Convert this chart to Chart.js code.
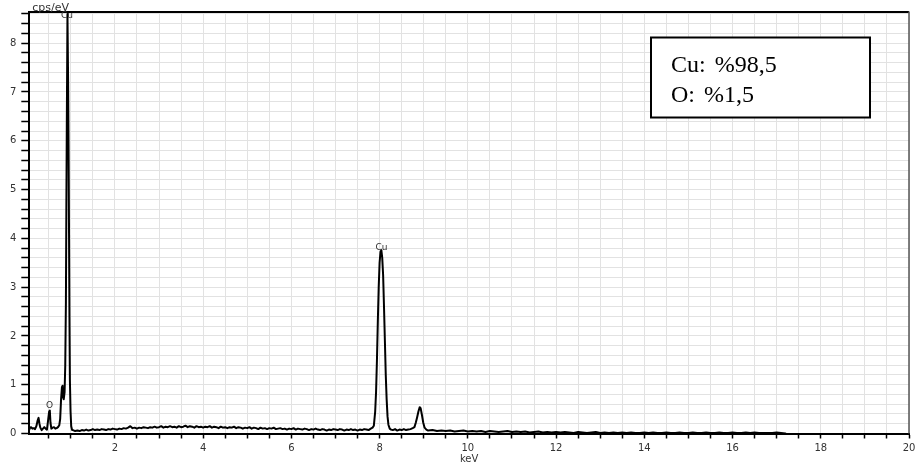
<!DOCTYPE html>
<html>
<head>
<meta charset="utf-8">
<script src="https://cdn.jsdelivr.net/npm/chart.js@4"></script>
<style>
html,body{margin:0;padding:0;background:#fff;}
canvas{display:block;}
</style>
</head>
<body>
<canvas id="c" width="920" height="470"></canvas>
<script>
// ---- data ----
const energyKeV = [
0.06,0.08,0.10,0.13,0.16,0.19,0.22,0.25,0.27,0.29,0.31,0.34,0.37,0.40,0.43,0.46,0.49,0.51,0.525,0.54,0.56,0.59,0.62,0.65,0.68,0.71,0.74,0.76,0.78,0.80,0.815,0.825,0.84,
0.86,0.875,0.89,0.90,0.91,0.925,0.94,0.95,0.96,0.97,0.98,0.995,1.01,1.03,
1.05,1.10,1.15,1.20,1.25,1.30,1.35,1.40,1.45,1.50,1.55,1.60,1.65,1.70,1.75,1.80,1.85,1.90,1.95,2.00,
2.05,2.10,2.15,2.20,2.25,2.30,2.35,2.40,2.45,2.50,2.55,2.60,2.65,2.70,2.75,2.80,2.85,2.90,2.95,3.00,
3.05,3.10,3.15,3.20,3.25,3.30,3.35,3.40,3.45,3.50,3.55,3.60,3.65,3.70,3.75,3.80,3.85,3.90,3.95,4.00,
4.05,4.10,4.15,4.20,4.25,4.30,4.35,4.40,4.45,4.50,4.55,4.60,4.65,4.70,4.75,4.80,4.85,4.90,4.95,5.00,
5.05,5.10,5.15,5.20,5.25,5.30,5.35,5.40,5.45,5.50,5.55,5.60,5.65,5.70,5.75,5.80,5.85,5.90,5.95,6.00,
6.05,6.10,6.15,6.20,6.25,6.30,6.35,6.40,6.45,6.50,6.55,6.60,6.65,6.70,6.75,6.80,6.85,6.90,6.95,7.00,
7.05,7.10,7.15,7.20,7.25,7.30,7.35,7.40,7.45,7.50,7.55,7.60,7.65,7.70,7.75,7.80,
7.84,7.87,7.90,7.92,7.94,7.96,7.98,8.00,8.02,8.04,8.06,8.08,8.10,8.12,8.14,8.16,8.18,8.20,8.23,8.26,
8.30,8.35,8.40,8.45,8.50,8.55,8.60,8.65,8.70,8.75,
8.79,8.82,8.85,8.88,8.91,8.93,8.96,8.99,9.02,9.06,9.10,
9.2,9.3,9.4,9.5,9.6,9.7,9.8,9.9,10.0,10.1,10.2,10.3,10.4,10.5,10.6,10.7,10.8,10.9,11.0,
11.1,11.2,11.3,11.4,11.5,11.6,11.7,11.8,11.9,12.0,12.1,12.2,12.3,12.4,12.5,12.6,12.7,12.8,12.9,13.0,
13.1,13.2,13.3,13.4,13.5,13.6,13.7,13.8,13.9,14.0,14.1,14.2,14.3,14.4,14.5,14.6,14.7,14.8,14.9,15.0,
15.1,15.2,15.3,15.4,15.5,15.6,15.7,15.8,15.9,16.0,16.1,16.2,16.3,16.4,16.5,16.6,16.7,16.8,16.9,17.0,
17.1,17.2
];
const countsPerEV = [
0.08,0.12,0.13,0.10,0.11,0.09,0.15,0.27,0.32,0.20,0.12,0.07,0.10,0.13,0.10,0.08,0.30,0.45,0.47,0.22,0.10,0.12,0.13,0.10,0.11,0.13,0.17,0.30,0.70,0.95,0.98,0.75,0.70,
0.85,1.40,2.70,4.60,6.30,8.60,7.20,5.90,4.20,2.40,1.10,0.45,0.15,0.07,
0.07,0.05,0.06,0.05,0.07,0.06,0.08,0.06,0.07,0.09,0.07,0.08,0.07,0.09,0.08,0.07,0.09,0.08,0.10,0.09,
0.08,0.10,0.09,0.11,0.10,0.12,0.15,0.11,0.12,0.10,0.12,0.11,0.13,0.12,0.11,0.13,0.12,0.14,0.12,0.13,
0.15,0.12,0.14,0.13,0.15,0.13,0.14,0.12,0.15,0.13,0.14,0.16,0.13,0.15,0.14,0.12,0.15,0.13,0.14,0.12,
0.14,0.13,0.15,0.12,0.14,0.13,0.11,0.14,0.12,0.13,0.11,0.13,0.12,0.14,0.11,0.13,0.12,0.10,0.12,0.11,
0.13,0.10,0.12,0.11,0.09,0.12,0.10,0.11,0.09,0.11,0.10,0.12,0.09,0.10,0.11,0.09,0.10,0.08,0.10,0.09,
0.11,0.08,0.10,0.09,0.08,0.10,0.09,0.07,0.09,0.08,0.10,0.08,0.07,0.09,0.08,0.06,0.08,0.07,0.09,0.08,
0.07,0.09,0.08,0.06,0.08,0.07,0.09,0.07,0.08,0.06,0.08,0.07,0.09,0.08,0.07,0.10,
0.12,0.16,0.45,0.85,1.50,2.30,3.00,3.50,3.72,3.76,3.60,3.25,2.60,1.90,1.20,0.70,0.35,0.18,0.10,0.08,
0.07,0.09,0.06,0.08,0.07,0.09,0.07,0.08,0.09,0.11,
0.13,0.22,0.33,0.45,0.54,0.52,0.38,0.22,0.12,0.08,0.06,
0.07,0.05,0.06,0.05,0.06,0.04,0.05,0.06,0.04,0.05,0.04,0.05,0.03,0.05,0.04,0.03,0.04,0.05,0.03,
0.04,0.03,0.04,0.02,0.03,0.04,0.02,0.03,0.02,0.03,0.02,0.03,0.02,0.01,0.03,0.02,0.01,0.02,0.03,0.01,
0.02,0.01,0.02,0.01,0.02,0.01,0.02,0.01,0.01,0.02,0.01,0.02,0.01,0.01,0.02,0.01,0.01,0.02,0.01,0.01,
0.02,0.01,0.01,0.02,0.01,0.01,0.02,0.01,0.01,0.02,0.01,0.01,0.02,0.01,0.02,0.01,0.01,0.01,0.01,0.02,
0.01,0.00
];
const xLabelValues = [2,4,6,8,10,12,14,16,18,20];
const xTickLabels  = ['2','4','6','8','10','12','14','16','18','20'];
const yLabelValues = [0,1,2,3,4,5,6,7,8];
const yTickLabels  = ['0','1','2','3','4','5','6','7','8'];
const peakLabels = [
  {text:'Cu', x:0.915, y:8.56},
  {text:'Cu', x:8.045, y:3.80},
  {text:'O',  x:0.52,  y:0.58}
];
const compositionLines = ['Cu: %98,5', 'O: %1,5'];
const yUnitLabel = 'cps/eV';
const xUnitLabel = 'keV';

// ---- chart ----
const X_MIN = 0.06, X_MAX = 20, Y_MIN = 0, Y_MAX = 8.65;
const xMinor = []; for (let i = 1; i <= 40; i++) xMinor.push(i * 0.5);
const yMinor = []; for (let i = 0; i <= 43; i++) yMinor.push(Math.round(i * 2) / 10);

const tickFont = {family:'DejaVu Sans', size:10};

const overlay = {
  id:'overlay',
  afterDraw(chart){
    const ctx = chart.ctx, a = chart.chartArea;
    const xs = chart.scales.x, ys = chart.scales.y;
    ctx.save();
    // frame top + right
    ctx.strokeStyle = '#000'; ctx.lineWidth = 2;
    ctx.beginPath(); ctx.moveTo(a.left, a.top + 0.5); ctx.lineTo(a.right, a.top + 0.5); ctx.stroke();
    ctx.strokeStyle = '#555'; ctx.lineWidth = 1.5;
    ctx.beginPath(); ctx.moveTo(a.right, a.top); ctx.lineTo(a.right, a.bottom); ctx.stroke();
    // y unit label
    ctx.fillStyle = '#333'; ctx.font = '11px "DejaVu Sans"';
    ctx.textAlign = 'left'; ctx.textBaseline = 'alphabetic';
    ctx.fillText(yUnitLabel, a.left + 3, a.top - 1);
    // peak labels
    ctx.font = '9px "DejaVu Sans"'; ctx.textAlign = 'center'; ctx.textBaseline = 'middle';
    ctx.fillStyle = '#333';
    peakLabels.forEach(p => ctx.fillText(p.text, xs.getPixelForValue(p.x), ys.getPixelForValue(p.y)));
    // composition box
    const bx = 651, by = 37.5, bw = 219, bh = 80;
    ctx.fillStyle = '#fff'; ctx.fillRect(bx, by, bw, bh);
    ctx.strokeStyle = '#000'; ctx.lineWidth = 2; ctx.strokeRect(bx, by, bw, bh);
    ctx.fillStyle = '#000'; ctx.font = '24px "Liberation Serif"';
    ctx.textAlign = 'left'; ctx.textBaseline = 'alphabetic';
    try { ctx.wordSpacing = '3px'; } catch(e) {}
    compositionLines.forEach((t, i) => ctx.fillText(t, 671, 72 + i * 30));
    ctx.restore();
  }
};

new Chart(document.getElementById('c'), {
  type:'line',
  data:{
    datasets:[{
      data: energyKeV.map((e, i) => ({x:e, y:countsPerEV[i]})),
      borderColor:'#000', borderWidth:2, pointRadius:0, tension:0, fill:false,
      borderJoinStyle:'round', borderCapStyle:'round',
      // a non-empty dash pattern (longer than the whole path) keeps Chart.js off its pixel-column fast path
      borderDash:[100000, 1]
    }]
  },
  options:{
    responsive:false, animation:false, devicePixelRatio:1,
    layout:{padding:{top:11.5, right:11, left:0, bottom:0}},
    plugins:{legend:{display:false}, tooltip:{enabled:false}},
    scales:{
      x:{
        type:'linear', min:X_MIN, max:X_MAX,
        afterFit(s){ s.height = 36.5; },
        afterBuildTicks(s){ s.ticks = xMinor.map(v => ({value:v})); },
        grid:{color:'#e2e2e2', lineWidth:1, drawTicks:true, tickLength:5, tickColor:'#000', tickWidth:1.5},
        border:{color:'#000', width:2},
        ticks:{autoSkip:false, maxRotation:0, padding:4, color:'#333', font:tickFont,
          callback(v){ const k = xLabelValues.indexOf(v); return k >= 0 ? xTickLabels[k] : ''; }},
        title:{display:true, text:xUnitLabel, color:'#333', font:tickFont, padding:{top:0, bottom:5}}
      },
      y:{
        type:'linear', min:Y_MIN, max:Y_MAX,
        afterFit(s){ s.width = 29.3; },
        afterBuildTicks(s){ s.ticks = yMinor.map(v => ({value:v})); },
        grid:{color:'#e2e2e2', lineWidth:1, drawTicks:true, tickLength:8, tickColor:'#000', tickWidth:1.5},
        border:{color:'#000', width:2},
        ticks:{autoSkip:false, padding:5, color:'#333', font:tickFont,
          callback(v){ const k = yLabelValues.indexOf(Math.round(v * 10) / 10); return k >= 0 ? yTickLabels[k] : ''; }}
      }
    }
  },
  plugins:[overlay]
});
</script>
</body>
</html>
